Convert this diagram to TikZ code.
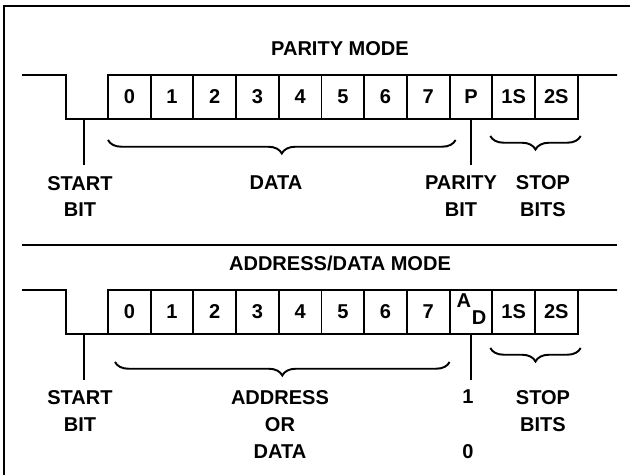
\documentclass[tikz,border=0pt]{standalone}
\usepackage{fontspec}
\setmainfont{Liberation Sans}
\usetikzlibrary{calc,decorations.pathreplacing}

\begin{document}
\begin{tikzpicture}[x=0.02cm,y=-0.02cm,line width=1.1pt,
  font=\fontsize{11.4}{15.3}\selectfont\bfseries,
  bitbox/.style={draw,minimum width=0.854cm,minimum height=0.88cm,inner sep=0pt,outer sep=0pt},
  lbl/.style={align=center,inner sep=0pt},
  brc/.style={decorate,decoration={brace,mirror,amplitude=0.27cm}}]
\useasboundingbox (0,0) rectangle (630,475);
\coordinate (fa) at (4,475);
\coordinate (fb) at (4,6);
\coordinate (fc) at (630,6);
\draw[line width=0.9pt] (fa) -- (fb) -- (fc);

% parity mode
\node[lbl] (pt) at (340,49) {PARITY MODE};
\foreach \t [count=\i from 0] in {0,1,2,3,4,5,6,7,P,1S,2S}
  \node[bitbox] (p\i) at ({129.35+42.7*\i},97) {\t};
\coordinate (pin) at (22,75);
\coordinate (pdip) at (66,119);
\coordinate (pout) at (617,75);
\draw (pin) -| (pdip) -- (p0.south west) -- (p0.north west) -- (pout);
\coordinate (ps) at (84,119);
\coordinate (pse) at (84,165);
\draw (ps) -- (pse);
\draw (p8.south) -- (p8.south |- pse);
\draw[brc] ($(p0.south west)+(0,21)$) -- ($(p7.south east)+(6,21)$);
\draw[brc] ($(p9.south west)+(-2,17)$) -- ($(p10.south east)+(3,17)$);
\node[lbl] (pstart) at (80,196.5) {START\\BIT};
\node[lbl] (pdata) at (276,183) {DATA};
\node[lbl] (ppar) at (461,196.5) {PARITY\\BIT};
\node[lbl] (pstop) at (543,196.5) {STOP\\BITS};

\coordinate (sl) at (22,245);
\coordinate (sr) at (617,245);
\draw (sl) -- (sr);

% address/data mode
\node[lbl] (at) at (340,263) {ADDRESS/DATA MODE};
\foreach \t [count=\i from 0] in {0,1,2,3,4,5,6,7,{},1S,2S}
  \node[bitbox] (a\i) at ({129.35+42.7*\i},312) {\t};
\node[inner sep=0pt,anchor=north west] (aa) at ($(a8.north west)+(6,3)$) {A};
\node[inner sep=0pt,anchor=south east] (ad) at ($(a8.south east)+(-5,-9)$) {D};
\coordinate (ain) at (22,290);
\coordinate (adip) at (66,334);
\coordinate (aout) at (617,290);
\draw (ain) -| (adip) -- (a0.south west) -- (a0.north west) -- (aout);
\coordinate (as) at (84,334);
\coordinate (ase) at (84,380);
\draw (as) -- (ase);
\draw (a8.south) -- (a8.south |- ase);
\draw[brc] ($(a0.south west)+(7,28)$) -- ($(a7.south east)+(0,28)$);
\draw[brc] ($(a9.south west)+(-2,14)$) -- ($(a10.south east)+(3,14)$);
\node[lbl] (astart) at (80,411) {START\\BIT};
\node[lbl] (aaddr) at (280,424.5) {ADDRESS\\OR\\DATA};
\node[lbl] (aone) at (468,397) {1};
\node[lbl] (azero) at (468,452) {0};
\node[lbl] (astop) at (543,411) {STOP\\BITS};
\end{tikzpicture}
\end{document}
